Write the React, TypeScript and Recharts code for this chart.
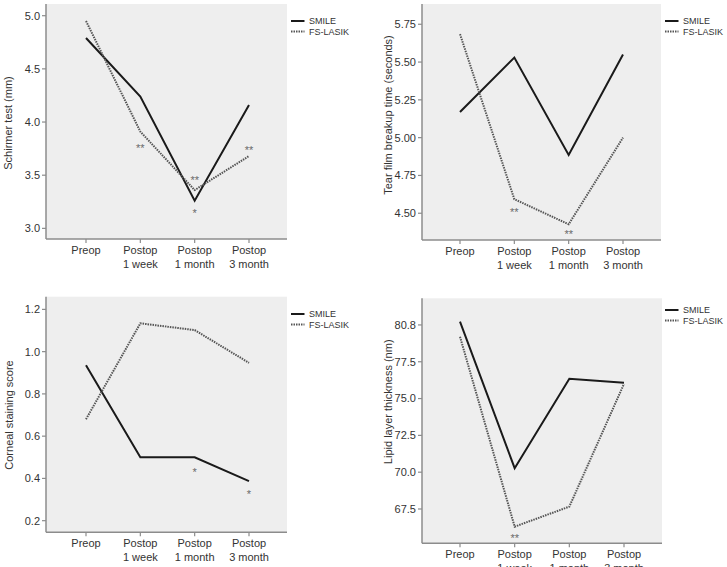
import React from "react";
import { ComposedChart, Line, XAxis, YAxis, CartesianGrid, Legend } from "recharts";

const categories = ["Preop", "Postop\n1 week", "Postop\n1 month", "Postop\n3 month"];

const schirmerSmile = [4.79, 4.24, 3.26, 4.16];
const schirmerFs = [4.95, 3.91, 3.36, 3.68];
const schirmerAst2 = [null, 3.77, 3.47, 3.755];
const schirmerAst1 = [null, null, 3.16, null];
const schirmerTicks = [3.0, 3.5, 4.0, 4.5, 5.0];
const schirmerTickLabels = ["3.0", "3.5", "4.0", "4.5", "5.0"];

const tbutSmile = [5.17, 5.53, 4.885, 5.55];
const tbutFs = [5.685, 4.593, 4.427, 5.0];
const tbutAst2 = [null, 4.522, 4.378, null];
const tbutAst1 = [null, null, null, null];
const tbutTicks = [4.5, 4.75, 5.0, 5.25, 5.5, 5.75];
const tbutTickLabels = ["4.50", "4.75", "5.00", "5.25", "5.50", "5.75"];

const cssSmile = [0.936, 0.5, 0.5, 0.387];
const cssFs = [0.68, 1.134, 1.102, 0.947];
const cssAst2 = [null, null, null, null];
const cssAst1 = [null, null, 0.439, 0.334];
const cssTicks = [0.2, 0.4, 0.6, 0.8, 1.0, 1.2];
const cssTickLabels = ["0.2", "0.4", "0.6", "0.8", "1.0", "1.2"];

const lltSmile = [80.22, 70.27, 76.35, 76.08];
const lltFs = [79.2, 66.3, 67.66, 76.0];
const lltAst2 = [null, 65.67, null, null];
const lltAst1 = [null, null, null, null];
const lltTicks = [67.5, 70.0, 72.5, 75.0, 77.5, 80.0];
const lltTickLabels = ["67.5", "70.0", "72.5", "75.0", "77.5", "80.8"];

const seriesNames = ["SMILE", "FS-LASIK"];

const FONT = "'Liberation Sans', Arial, Helvetica, sans-serif";
const AXIS = "#8c8c8c";
const TEXT = "#333333";

const XTick = (props: any) => {
  const { x, y, payload } = props;
  const lines = String(payload.value).split("\n");
  return (
    <text x={x} y={y} textAnchor="middle" fontSize={11} fill={TEXT} fontFamily={FONT}>
      {lines.map((l, i) => (
        <tspan key={i} x={x} dy={i === 0 ? 9 : 13.5}>
          {l}
        </tspan>
      ))}
    </text>
  );
};

const makeStar = (txt: string) => (props: any) => {
  const { cx, cy, value, index } = props;
  if (value === null || value === undefined || cy === null || cy === undefined || isNaN(cy)) {
    return <g key={`s-${txt}-${index}`} />;
  }
  return (
    <text key={`s-${txt}-${index}`} x={cx} y={cy} dy={6} textAnchor="middle" fontSize={11} fill="#6a6a6a" fontFamily={FONT}>
      {txt}
    </text>
  );
};

const LegendBox = () => (
  <svg width={64} height={24} style={{ display: "block", overflow: "visible" }}>
    <line x1={0} y1={5} x2={13.5} y2={5} stroke="#1a1a1a" strokeWidth={2} />
    <text x={18} y={8.3} fontSize={9} fill={TEXT} fontFamily={FONT}>{seriesNames[0]}</text>
    <line x1={0} y1={15.5} x2={13.5} y2={15.5} stroke="#555" strokeWidth={2} strokeDasharray="1.5 1" />
    <text x={18} y={18.8} fontSize={9} fill={TEXT} fontFamily={FONT}>{seriesNames[1]}</text>
  </svg>
);

type PanelProps = {
  left: number;
  top: number;
  width: number;
  height: number;
  marginLeft: number;
  marginRight: number;
  marginTop: number;
  xAxisHeight: number;
  padL: number;
  padR: number;
  smile: number[];
  fs: number[];
  ast2: (number | null)[];
  ast1: (number | null)[];
  domain: [number, number];
  ticks: number[];
  tickLabels: string[];
  yLabel: string;
  labelDx: number;
  labelDy: number;
  legendLeft: number;
  legendTop: number;
};

const Panel = (p: PanelProps) => {
  const data = categories.map((c, i) => ({
    cat: c,
    smile: p.smile[i],
    fs: p.fs[i],
    ast2: p.ast2[i],
    ast1: p.ast1[i],
  }));
  const fmt = (v: number) => {
    const idx = p.ticks.findIndex((t) => Math.abs(t - v) < 1e-9);
    return idx >= 0 ? p.tickLabels[idx] : String(v);
  };
  return (
    <div style={{ position: "absolute", left: p.left, top: p.top, width: p.width, height: p.height }}>
      <ComposedChart
        width={p.width}
        height={p.height}
        data={data}
        margin={{ top: p.marginTop, right: p.marginRight, bottom: 0, left: p.marginLeft }}
      >
        <CartesianGrid horizontal={false} vertical={false} fill="#eeeeee" fillOpacity={1} />
        <XAxis
          dataKey="cat"
          type="category"
          scale="point"
          padding={{ left: p.padL, right: p.padR }}
          height={p.xAxisHeight}
          tick={<XTick />}
          tickSize={4}
          tickMargin={2}
          interval={0}
          axisLine={{ stroke: AXIS, strokeWidth: 1.5 }}
          tickLine={{ stroke: AXIS, strokeWidth: 1.2 }}
        />
        <XAxis
          xAxisId="top"
          dataKey="cat"
          orientation="top"
          height={0}
          tick={false}
          tickLine={false}
          axisLine={{ stroke: AXIS, strokeWidth: 1.5 }}
        />
        <YAxis
          type="number"
          domain={p.domain}
          allowDataOverflow
          ticks={p.ticks}
          tickFormatter={fmt}
          width={36}
          tickSize={4}
          tickMargin={2}
          tick={{ fontSize: 11, fill: TEXT, fontFamily: FONT }}
          axisLine={{ stroke: AXIS, strokeWidth: 1.5 }}
          tickLine={{ stroke: AXIS, strokeWidth: 1.2 }}
          label={{
            value: p.yLabel,
            angle: -90,
            position: "center",
            dx: p.labelDx,
            dy: p.labelDy,
            fontSize: 11,
            fill: TEXT,
            fontFamily: FONT,
          }}
        />
        <YAxis
          yAxisId="right"
          orientation="right"
          width={0}
          tick={false}
          tickLine={false}
          axisLine={{ stroke: AXIS, strokeWidth: 1.5 }}
        />
        <Line
          dataKey="smile"
          name={seriesNames[0]}
          type="linear"
          stroke="#1a1a1a"
          strokeWidth={2}
          dot={false}
          activeDot={false}
          isAnimationActive={false}
        />
        <Line
          dataKey="fs"
          name={seriesNames[1]}
          type="linear"
          stroke="#555555"
          strokeWidth={2}
          strokeDasharray="1.5 1"
          dot={false}
          activeDot={false}
          isAnimationActive={false}
        />
        <Line
          dataKey="ast2"
          stroke="none"
          legendType="none"
          dot={makeStar("**")}
          activeDot={false}
          connectNulls={false}
          isAnimationActive={false}
        />
        <Line
          dataKey="ast1"
          stroke="none"
          legendType="none"
          dot={makeStar("*")}
          activeDot={false}
          connectNulls={false}
          isAnimationActive={false}
        />
        <Legend
          layout="vertical"
          align="center"
          verticalAlign="middle"
          content={() => <LegendBox />}
          wrapperStyle={{ left: p.legendLeft, top: p.legendTop, width: 64, height: 24 }}
        />
      </ComposedChart>
    </div>
  );
};

export default function App() {
  return (
    <div style={{ position: "absolute", left: 0, top: 0, width: 727, height: 567, background: "#ffffff", overflow: "hidden" }}>
      <Panel
        left={0} top={0} width={363} height={280}
        marginLeft={10} marginRight={76} marginTop={4} xAxisHeight={41}
        padL={40} padR={38}
        smile={schirmerSmile} fs={schirmerFs} ast2={schirmerAst2} ast1={schirmerAst1}
        domain={[2.9, 5.11]} ticks={schirmerTicks} tickLabels={schirmerTickLabels}
        yLabel="Schirmer test (mm)" labelDx={-19.7} labelDy={1.5}
        legendLeft={290.7} legendTop={16}
      />
      <Panel
        left={363} top={0} width={364} height={280}
        marginLeft={23} marginRight={66} marginTop={4} xAxisHeight={40}
        padL={38} padR={38}
        smile={tbutSmile} fs={tbutFs} ast2={tbutAst2} ast1={tbutAst1}
        domain={[4.323, 5.884]} ticks={tbutTicks} tickLabels={tbutTickLabels}
        yLabel="Tear film breakup time (seconds)" labelDx={-16} labelDy={-7}
        legendLeft={301.7} legendTop={16}
      />
      <Panel
        left={0} top={280} width={363} height={287}
        marginLeft={10} marginRight={76} marginTop={16.7} xAxisHeight={34.7}
        padL={40} padR={38}
        smile={cssSmile} fs={cssFs} ast2={cssAst2} ast1={cssAst1}
        domain={[0.145, 1.26]} ticks={cssTicks} tickLabels={cssTickLabels}
        yLabel="Corneal staining score" labelDx={-19.3} labelDy={0.5}
        legendLeft={290.7} legendTop={28.5}
      />
      <Panel
        left={363} top={280} width={364} height={287}
        marginLeft={23} marginRight={65} marginTop={18.3} xAxisHeight={23.7}
        padL={38} padR={38}
        smile={lltSmile} fs={lltFs} ast2={lltAst2} ast1={lltAst1}
        domain={[65.17, 81.81]} ticks={lltTicks} tickLabels={lltTickLabels}
        yLabel="Lipid layer thickness (nm)" labelDx={-16.3} labelDy={-19}
        legendLeft={301.7} legendTop={24.5}
      />
    </div>
  );
}
